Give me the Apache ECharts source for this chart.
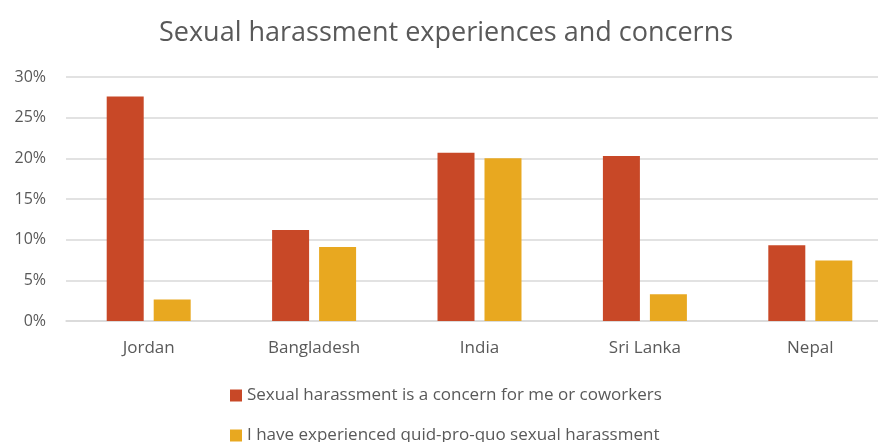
<!DOCTYPE html>
<html><head><meta charset="utf-8">
<script src="https://cdn.jsdelivr.net/npm/echarts@6/dist/echarts.min.js"></script>
<style>html,body{margin:0;padding:0;background:#fff;overflow:hidden;width:878px;height:442px}#c{width:893px;height:442px}</style>
</head><body><div id="c"></div>
<script>
const categories = ['Jordan', 'Bangladesh', 'India', 'Sri Lanka', 'Nepal'];
const concernValues = [27.6, 11.2, 20.7, 20.3, 9.3];
const experiencedValues = [2.65, 9.1, 20.0, 3.3, 7.45];
const seriesNames = ['Sexual harassment is a concern for me or coworkers', 'I have experienced quid-pro-quo sexual harassment'];
const yTicks = [0, 5, 10, 15, 20, 25, 30];

const font = '"Open Sans", "Noto Sans", sans-serif';
const legendText = {fontFamily: font, fontSize: 17, color: '#595959'};
const chart = echarts.init(document.getElementById('c'), null, {renderer: 'canvas'});
chart.setOption({
  animation: false,
  textStyle: {fontFamily: font},
  title: {
    text: 'Sexual harassment experiences and concerns',
    left: 159, top: 20, padding: 0,
    textStyle: {fontFamily: font, fontSize: 27, fontWeight: 'normal', color: '#595959'}
  },
  legend: [
    {left: 230, top: 387, padding: 0, itemWidth: 12, itemHeight: 12, icon: 'rect',
     textStyle: legendText, data: [seriesNames[0]]},
    {left: 230, top: 427, padding: 0, itemWidth: 12, itemHeight: 12, icon: 'rect',
     textStyle: legendText, data: [seriesNames[1]]}
  ],
  grid: {left: 66, right: 0, top: 77, bottom: 121, containLabel: false},
  xAxis: {
    type: 'category', data: categories,
    axisLine: {lineStyle: {color: '#d9d9d9', width: 1.5}},
    axisTick: {show: false},
    axisLabel: {fontFamily: font, fontSize: 17, color: '#595959', margin: 19}
  },
  yAxis: {
    type: 'value', min: yTicks[0], max: yTicks[yTicks.length - 1], interval: 5,
    axisLine: {show: false}, axisTick: {show: false},
    axisLabel: {fontFamily: font, fontSize: 16, color: '#595959', margin: 20, formatter: v => v + '%'},
    splitLine: {lineStyle: {color: '#d9d9d9', width: 1.5}}
  },
  series: [
    {name: seriesNames[0], type: 'bar', data: concernValues, barWidth: 37, barGap: '27%',
     itemStyle: {color: '#C84827'}},
    {name: seriesNames[1], type: 'bar', data: experiencedValues, barWidth: 37,
     itemStyle: {color: '#E8A820'}}
  ]
});
</script></body></html>
